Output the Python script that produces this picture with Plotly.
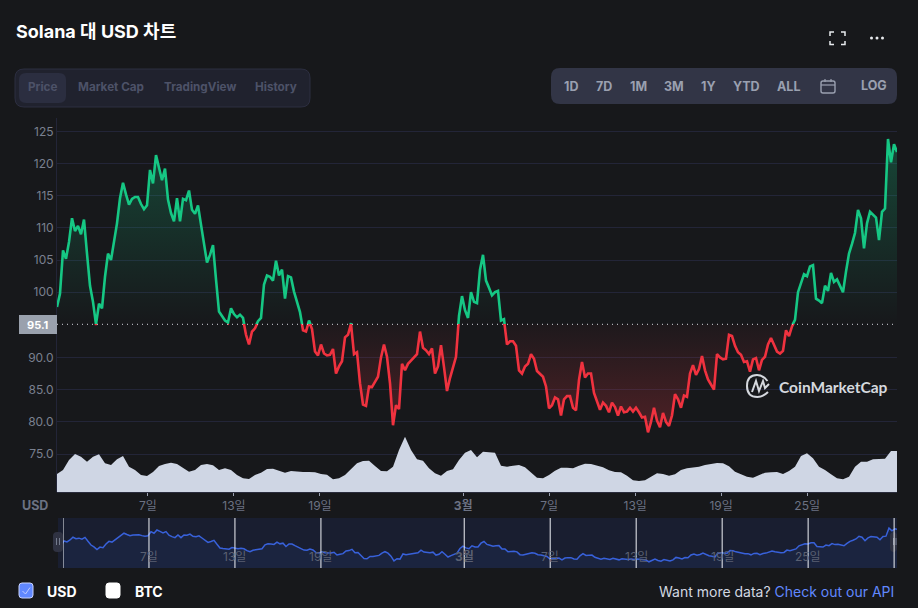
import pandas as pd
import plotly.graph_objects as go

W, H = 918, 608
FONT = "Inter, 'Noto Sans CJK KR', sans-serif"

price = [
 97.7,99.8,106.5,105.2,107.8,111.5,109.5,110.3,109,111.3,106,101,98.5,95.0,98.2,97.5,102.4,106,105,108,
 110.7,114.6,117,115.2,113.6,114.5,114.8,114.8,113.7,112.9,113.5,119,116.9,121.3,119.4,117.4,119.2,114.4,112.3,111,
 114.6,111,114.5,114.3,115.8,112.8,112.2,113.5,
 110.5,107.5,104.6,105.8,107.3,102,97,96.3,95.6,95.3,97.5,96.6,96.1,96.5,96,93.5,92,94,94.5,95.5,
 96,101.2,102.6,102.4,101.8,104.9,102.6,103.5,99,102.5,102.3,100.1,98.4,96.9,94.2,94.0,95.6,94.4,90.9,90.3,
 92,90.6,90.3,90.4,91.3,87.5,88.6,
 89.4,93.1,93.5,95.2,90.5,90.8,86,82.7,82.5,85.5,85.4,86.2,87,90,92,90.1,86,79.5,82.6,82,
 89,88,89,89.5,90,90.5,94,91.5,91.1,90.5,91.4,87.5,88.6,91.9,88.5,84.8,86.8,88.5,90.1,96.3,
 99.4,97.2,96,100,98.5,98.3,
 103.5,105.8,101.8,100.7,99.5,100,100.2,95.6,95.8,92,92.5,92.5,91.8,88,87.5,88.6,89,90.5,89.8,87.9,
 87.5,87,85.5,82.1,82.6,83.8,83.5,81,83.5,84,84,82.2,81.8,86.5,89.3,86.9,87.5,87.5,84.5,83.1,
 81.9,83,82.5,81.5,83,82.3,81,
 82.4,81.5,81.6,82.2,81.6,82.2,81.5,80.7,80.8,78.4,80,82.2,80.2,79.2,81.4,80,79.4,81,84.3,83.5,
 82.2,84.1,83.9,87.5,88.8,87.3,88.2,90.2,88,86.6,85.8,85,90.5,90,89.7,89.8,93.5,93.3,91.8,90.8,
 90.4,89.3,89.4,87.8,89.7,89.9,88,
 89.6,90.1,92,93,92,90.9,90.6,91,94.2,93.3,94.8,95.7,100,101.6,102.8,102.5,104,104.2,99,98.7,
 98.3,101,100.2,103,101.6,102,101,100,103.2,106,107.5,109.2,112.8,111.5,106.8,110.7,112.5,112,111.6,108.1,
 112.5,113,123.8,120.2,123,121.8,
]
volume = [
 18,22,32,38,35.3,30.3,35.3,37.7,28.7,27,32.7,36,25.3,22,17,16,20,26,28,29.3,28,23.7,20.3,22,27,28,26.7,22,23.7,22,
 17,13.7,13,17,19.3,23,23.3,21.3,19.3,21,20.3,20,20,19.7,18,17.3,12.7,13.7,17,23,28.7,31,31.3,26,21,20.7,25.3,42,55.3,42,
 32.7,31.3,23.7,18.7,16.3,21,22.7,32,
 39.3,42,34.7,40.3,39.7,39.3,26.3,25.3,26.3,27,24.7,19.3,14.3,13.7,17,21.3,24.3,24.3,23.7,26.3,28.3,28,26.3,24.7,21.7,20,19.7,16.3,11.7,11,
 11.7,15.3,18.7,18,16.3,17.7,22,23.7,24.3,25.3,27,28,29,28.7,25.7,20.3,17.7,15.3,14.3,17,19.3,19.7,20,18,21,25.3,36,38.7,33.7,25.3,
 22,17.7,13.7,12.7,15.3,25.3,30.3,30.3,32.7,33,33.3,41,41,
]
base_price = 95.1
start, end = "2022-01-31 15:36", "2022-03-31 06:28"
dates = pd.date_range(start, end, periods=len(price))
vol_dates = pd.date_range(start, end, periods=len(volume))
tick_dates = ["2022-02-07","2022-02-13","2022-02-19","2022-03-01","2022-03-07","2022-03-13","2022-03-19","2022-03-25"]
tick_text = ["7일","13일","19일","<b>3월</b>","7일","13일","19일","25일"]
nav_lines = ["2022-02-01"] + tick_dates + ["2022-03-31"]
tabs = [("Price",42.5),("Market Cap",110.5),("TradingView",199.5),("History",276)]
ranges = [("1D",570.5),("7D",604),("1M",638),("3M",674),("1Y",708),("YTD",746),("ALL",788)]

BG="#17181b"; GRID="#232538"; GREEN="#16c784"; RED="#f0323f"
px=lambda x:x/W
py=lambda y:1-y/H
def dom(top,bot): return [py(bot),py(top)]

def rrect(x0,y0,x1,y1,r,fill,line=None,layer="below",lw=1):
    a,b,c,d=px(x0),py(y0),px(x1),py(y1); rx,ry=r/W,r/H
    path=(f"M{a+rx},{b} L{c-rx},{b} Q{c},{b} {c},{b-ry} L{c},{d+ry} Q{c},{d} {c-rx},{d} "
          f"L{a+rx},{d} Q{a},{d} {a},{d+ry} L{a},{b-ry} Q{a},{b} {a+rx},{b} Z")
    return dict(type="path",path=path,xref="paper",yref="paper",fillcolor=fill,
                line=dict(color=line or "rgba(0,0,0,0)",width=lw if line else 0),layer=layer)
def seg(points,color,w=1.5,layer="above"):
    p=" ".join(("M" if i==0 else "L")+f"{px(x)},{py(y)}" for i,(x,y) in enumerate(points))
    return dict(type="path",path=p,xref="paper",yref="paper",line=dict(color=color,width=w),layer=layer)
def text(x,y,s,size=12,color="#fff",anchor="center",bold=False,family=FONT):
    return dict(x=px(x),y=py(y),xref="paper",yref="paper",text=f"<b>{s}</b>" if bold else s,showarrow=False,
                xanchor=anchor,yanchor="middle",font=dict(size=size,color=color,family=family),borderpad=0,
                bgcolor="rgba(0,0,0,0)")

fig=go.Figure()
# upper panel: above the base price
fig.add_trace(go.Scatter(x=dates,y=price,mode="lines",line=dict(color=GREEN,width=2.6),fill="tozeroy",
    fillgradient=dict(type="vertical",start=95.06,stop=124,
        colorscale=[[0,"rgba(22,199,132,0)"],[1,"rgba(22,199,132,0.27)"]]),
    fillcolor="rgba(0,0,0,0)",xaxis="x",yaxis="y",hoverinfo="skip"))
# lower panel: below the base price
fig.add_trace(go.Scatter(x=[dates[0],dates[-1]],y=[base_price+20,base_price+20],mode="lines",line=dict(width=0),
    xaxis="x",yaxis="y2",hoverinfo="skip"))
fig.add_trace(go.Scatter(x=dates,y=price,mode="lines",line=dict(color=RED,width=2.6),fill="tonexty",
    fillgradient=dict(type="vertical",start=78,stop=95.17,
        colorscale=[[0,"rgba(234,57,67,0.27)"],[1,"rgba(234,57,67,0.03)"]]),
    fillcolor="rgba(0,0,0,0)",xaxis="x",yaxis="y2",hoverinfo="skip"))
# volume
fig.add_trace(go.Scatter(x=vol_dates,y=volume,mode="lines",line=dict(width=0),fill="tozeroy",
    fillcolor="#cfd6e4",xaxis="x",yaxis="y3",hoverinfo="skip"))
# navigator
fig.add_trace(go.Scatter(x=dates,y=price,mode="lines",line=dict(color="#3861da",width=1.5),fill="tozeroy",
    fillcolor="rgba(56,97,218,0.09)",xaxis="x2",yaxis="y4",hoverinfo="skip"))

tickf=dict(size=12,color="#6c7283",family=FONT)
axis_common=dict(showline=True,linecolor=GRID,gridcolor=GRID,gridwidth=1,zeroline=False,ticks="",
                 tickfont=dict(size=12,color="#7a8090",family=FONT),anchor="x")
shapes=[
 rrect(15,69,310,107,9,"#20222e","#2c2e40"),
 rrect(19,73,66,103,7,"#2b2e40"),
 rrect(551,68,897,104,9,"#323546"),
 rrect(58,518,897,568,0,"#191e30"),
 dict(type="line",xref="paper",yref="paper",x0=px(57),x1=px(897),y0=py(324.3),y1=py(324.3),
      line=dict(color="#d5d8de",width=1,dash="1px,4px"),layer="above"),
 # price tag
 dict(type="rect",xref="paper",yref="paper",x0=px(19),x1=px(57),y0=py(315),y1=py(334),fillcolor="#9aa1ad",line=dict(width=0),layer="above"),
 # fullscreen icon
 seg([(830,36),(830,32),(834,32)],"#e8eaee"),seg([(841,32),(845,32),(845,36)],"#e8eaee"),
 seg([(830,41),(830,44.5),(834,44.5)],"#e8eaee"),seg([(841,44.5),(845,44.5),(845,41)],"#e8eaee"),
 # calendar icon
 rrect(821,81,835,93,2,"rgba(0,0,0,0)","#9aa0b0","above",1.4),
 seg([(821,85),(835,85)],"#9aa0b0",1.2),seg([(825,79),(825,82)],"#9aa0b0",1.2),seg([(831,79),(831,82)],"#9aa0b0",1.2),
 # checkboxes
 rrect(19,583,33,598,3,"#6188ff","#c9d3ff","above",1),
 seg([(22.5,591),(25.5,594),(30,587.5)],"#c9d3ff",0.9),
 rrect(106,583,120,598,3,"#ffffff","#ffffff","above",1),
 # navigator handles
 rrect(53,532,63,552,4,"#2f3242",None,"above"),
 rrect(890,532,897,552,4,"#2f3242",None,"above"),
 seg([(56.5,538),(56.5,545)],"#747b8d",1),seg([(59.5,538),(59.5,545)],"#747b8d",1),
 seg([(893.5,538),(893.5,545)],"#747b8d",1),seg([(896,538),(896,545)],"#747b8d",1),
 # logo
 dict(type="path",xref="paper",yref="paper",layer="above",line=dict(color="#d5d8de",width=2),
      path=" ".join(["M"+f"{px(767.5)},{py(381)}","Q"+f"{px(763)},{py(375)} {px(757)},{py(375)}",
                     "Q"+f"{px(747)},{py(375)} {px(747)},{py(386)}","Q"+f"{px(747)},{py(397)} {px(757.5)},{py(397)}",
                     "Q"+f"{px(763)},{py(397)} {px(768)},{py(392)}"])),
 seg([(752,392),(756,381),(759,391),(763,381),(765,388),(769,384)],"#d5d8de",2),
]
for x in (871.5,877,882.5):
    shapes.append(dict(type="circle",xref="paper",yref="paper",x0=px(x-1.5),x1=px(x+1.5),y0=py(39.5),y1=py(36.5),
                       fillcolor="#e8eaee",line=dict(width=0),layer="above"))
for d in nav_lines:
    shapes.append(dict(type="line",xref="x2",yref="paper",x0=d,x1=d,y0=py(518),y1=py(568),
                       line=dict(color="#f0f2f6",width=1),layer="above"))

ann=[text(15,31.5,"Solana 대 USD 차트",18,"#ffffff","left",True)]
for i,(t,x) in enumerate(tabs):
    ann.append(text(x,87.5,t,11.7,"#4d5268",bold=True))
for t,x in ranges:
    ann.append(text(x,86.5,t,12.5,"#9aa0b0",bold=True))
ann+= [text(873.5,85.5,"LOG",12.5,"#9aa0b0",bold=True),
       text(38,324.5,"95.1",11,"#ffffff",bold=True),
       text(48.5,505,"USD",12.5,"#6c7283","right",True),
       text(778,387,"CoinMarketCap",15.5,"#d5d8de","left",True,"Lato, Inter, sans-serif"),
       text(45.5,591,"USD",14,"#ffffff","left",True),
       text(133.5,591,"BTC",14,"#ffffff","left",True),
       text(894.5,591,"Want more data? <span style='color:#6188ff'>Check out our API</span>",14,"#d3d8e2","right")]
for d,t in zip(tick_dates,tick_text):
    ann.append(dict(x=d,y=py(556),xref="x2",yref="paper",text=t,showarrow=False,xanchor="center",yanchor="middle",
                    font=dict(size=12,color="#5a6072",family=FONT)))

fig.update_layout(
    width=W,height=H,autosize=False,margin=dict(l=0,r=0,t=0,b=0,pad=0),
    paper_bgcolor=BG,plot_bgcolor="rgba(0,0,0,0)",showlegend=False,hovermode=False,
    font=dict(family=FONT),
    xaxis=dict(domain=[px(57),px(897)],range=[start,end],type="date",anchor="y3",tickmode="array",
               tickvals=tick_dates,ticktext=tick_text,ticks="outside",ticklen=3,tickcolor="#9aa0b0",tickwidth=1,
               tickfont=tickf,showgrid=False,showline=True,linecolor="#2a2c3c",zeroline=False),
    xaxis2=dict(domain=[px(63),px(897)],range=["2022-02-01 00:00","2022-03-31 04:50"],type="date",anchor="y4",
                showticklabels=False,ticks="",showgrid=False,showline=False,zeroline=False),
    yaxis=dict(domain=dom(118,324),range=[95.06,127.07],tickmode="array",tickvals=[100,105,110,115,120,125],
               ticktext=["100","105","110","115","120","125"],**axis_common),
    yaxis2=dict(domain=dom(324,492),range=[69.16,95.17],tickmode="array",tickvals=[75,80,85,90],
                ticktext=["75.0","80.0","85.0","90.0"],**axis_common),
    yaxis3=dict(domain=dom(432,492),range=[0,60],visible=False,anchor="x"),
    yaxis4=dict(domain=dom(518,568),range=[70,137.5],visible=False,anchor="x2"),
    shapes=shapes,annotations=ann,
)
fig.write_html("out.html",config=dict(displayModeBar=False,staticPlot=True),
               post_script="document.body.style.margin='0';document.body.style.overflow='hidden';document.body.style.background='#17181b';")
